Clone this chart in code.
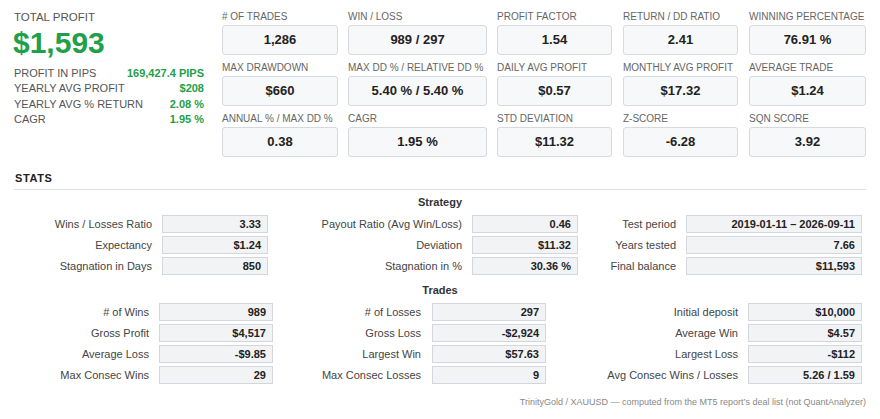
import { CSSProperties } from 'react'

const FONT = '"Liberation Sans", Arial, sans-serif'

// headline
const totalProfitLabel = 'TOTAL PROFIT'
const totalProfitValue = '$1,593'

const summaryLabels = ['PROFIT IN PIPS', 'YEARLY AVG PROFIT', 'YEARLY AVG % RETURN', 'CAGR']
const summaryValues = ['169,427.4 PIPS', '$208', '2.08 %', '1.95 %']

// metric cards, row by row
const cardLabels = [
  '# OF TRADES', 'WIN / LOSS', 'PROFIT FACTOR', 'RETURN / DD RATIO', 'WINNING PERCENTAGE',
  'MAX DRAWDOWN', 'MAX DD % / RELATIVE DD %', 'DAILY AVG PROFIT', 'MONTHLY AVG PROFIT', 'AVERAGE TRADE',
  'ANNUAL % / MAX DD %', 'CAGR', 'STD DEVIATION', 'Z-SCORE', 'SQN SCORE',
]
const cardValues = [
  '1,286', '989 / 297', '1.54', '2.41', '76.91 %',
  '$660', '5.40 % / 5.40 %', '$0.57', '$17.32', '$1.24',
  '0.38', '1.95 %', '$11.32', '-6.28', '3.92',
]

// stats: strategy block
const strategyLabels = [
  ['Wins / Losses Ratio', 'Expectancy', 'Stagnation in Days'],
  ['Payout Ratio (Avg Win/Loss)', 'Deviation', 'Stagnation in %'],
  ['Test period', 'Years tested', 'Final balance'],
]
const strategyValues = [
  ['3.33', '$1.24', '850'],
  ['0.46', '$11.32', '30.36 %'],
  ['2019-01-11 \u2013 2026-09-11', '7.66', '$11,593'],
]

// stats: trades block
const tradesLabels = [
  ['# of Wins', 'Gross Profit', 'Average Loss', 'Max Consec Wins'],
  ['# of Losses', 'Gross Loss', 'Largest Win', 'Max Consec Losses'],
  ['Initial deposit', 'Average Win', 'Largest Loss', 'Avg Consec Wins / Losses'],
]
const tradesValues = [
  ['989', '$4,517', '-$9.85', '29'],
  ['297', '-$2,924', '$57.63', '9'],
  ['$10,000', '$4.57', '-$112', '5.26 / 1.59'],
]

const footnote = 'TrinityGold / XAUUSD \u2014 computed from the MT5 report\u2019s deal list (not QuantAnalyzer)'

// layout
const cardCols = [[222, 338], [348, 487], [497, 612], [623, 738], [749, 866]]
const cardRowTop = [8, 59, 110]

const strategyCols = [
  { labelRight: 152, boxLeft: 162, boxRight: 268 },
  { labelRight: 462, boxLeft: 472, boxRight: 578 },
  { labelRight: 676, boxLeft: 686, boxRight: 862 },
]
const strategyRowY = [224, 245, 266]

const tradesCols = [
  { labelRight: 149, boxLeft: 159, boxRight: 273 },
  { labelRight: 421, boxLeft: 432, boxRight: 546 },
  { labelRight: 738, boxLeft: 748, boxRight: 862 },
]
const tradesRowY = [312, 333, 354, 375]

const GREEN = '#21a04a'

function Txt({ x, y, children, align = 'left', size = 11, bold = false, color = '#444', w = 300, style }: {
  x: number; y: number; children: any; align?: 'left' | 'right' | 'center'; size?: number; bold?: boolean
  color?: string; w?: number; style?: CSSProperties
}) {
  const left = align === 'left' ? x : align === 'right' ? x - w : x - w / 2
  return (
    <div style={{
      position: 'absolute', left, top: y - 10, width: w, height: 20, lineHeight: '20px',
      fontSize: size, fontWeight: bold ? 700 : 400, color, textAlign: align, whiteSpace: 'nowrap', ...style,
    }}>{children}</div>
  )
}

function StatBox({ left, right, y, value }: { left: number; right: number; y: number; value: string }) {
  return (
    <div style={{
      position: 'absolute', left, top: y - 9, width: right - left, height: 18, boxSizing: 'border-box',
      background: '#f2f3f5', border: '1px solid #d3d7dd', fontSize: 11, fontWeight: 700, color: '#222',
      lineHeight: '16px', textAlign: 'right', paddingRight: 6,
    }}>{value}</div>
  )
}

export default function App() {
  return (
    <div style={{
      position: 'fixed', left: 0, top: 0, width: 880, height: 419, background: '#fff',
      fontFamily: FONT, overflow: 'hidden',
    }}>
      <Txt x={14} y={17} size={11.5} color="#555">{totalProfitLabel}</Txt>
      <Txt x={13} y={43} size={30} bold color={GREEN} style={{ height: 36, lineHeight: '36px', top: 25 }}>{totalProfitValue}</Txt>

      {summaryLabels.map((l, i) => (
        <div key={l}>
          <Txt x={14} y={73 + i * 15.4} size={11} color="#555">{l}</Txt>
          <Txt x={204} y={73 + i * 15.4} size={11} bold align="right" color={GREEN} w={150}>{summaryValues[i]}</Txt>
        </div>
      ))}

      {cardLabels.map((l, i) => {
        const [x0, x1] = cardCols[i % 5]
        const top = cardRowTop[Math.floor(i / 5)]
        return (
          <div key={l + i}>
            <Txt x={x0} y={top + 9} size={10} color="#666">{l}</Txt>
            <div style={{
              position: 'absolute', left: x0, top: top + 17, width: x1 - x0, height: 30, boxSizing: 'border-box',
              background: '#f7f8fa', border: '1px solid #d6d9de', borderRadius: 3, textAlign: 'center',
              lineHeight: '28px', fontSize: 13, fontWeight: 700, color: '#222',
            }}>{cardValues[i]}</div>
          </div>
        )
      })}

      <Txt x={15} y={178} size={11} bold color="#222" style={{ letterSpacing: 0.6 }}>STATS</Txt>
      <div style={{ position: 'absolute', left: 14, top: 189, width: 852, height: 1, background: '#dcdfe3' }} />

      <Txt x={440} y={202} size={11} bold color="#333" align="center">Strategy</Txt>
      {strategyCols.map((c, ci) => strategyRowY.map((y, ri) => (
        <div key={'s' + ci + ri}>
          <Txt x={c.labelRight} y={y} align="right" color="#444">{strategyLabels[ci][ri]}</Txt>
          <StatBox left={c.boxLeft} right={c.boxRight} y={y} value={strategyValues[ci][ri]} />
        </div>
      )))}

      <Txt x={440} y={290} size={11} bold color="#333" align="center">Trades</Txt>
      {tradesCols.map((c, ci) => tradesRowY.map((y, ri) => (
        <div key={'t' + ci + ri}>
          <Txt x={c.labelRight} y={y} align="right" color="#444">{tradesLabels[ci][ri]}</Txt>
          <StatBox left={c.boxLeft} right={c.boxRight} y={y} value={tradesValues[ci][ri]} />
        </div>
      )))}

      <Txt x={866} y={402} size={9} align="right" color="#888" w={500}>{footnote}</Txt>
    </div>
  )
}
